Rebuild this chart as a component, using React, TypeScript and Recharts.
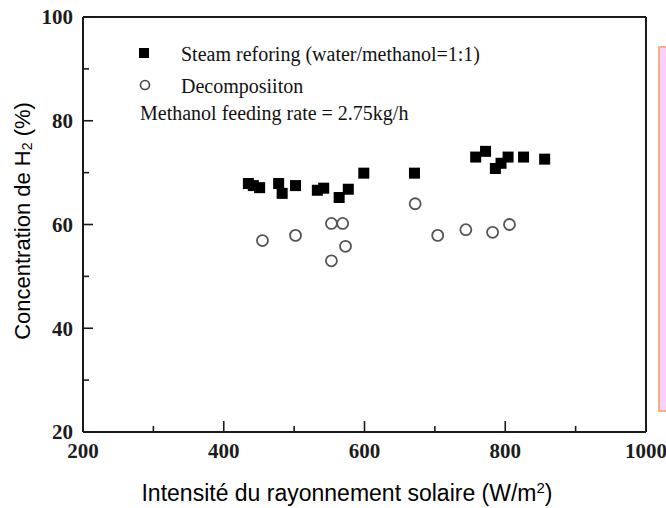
import React from 'react';
import { ScatterChart, Scatter, XAxis, YAxis, ReferenceLine } from 'recharts';

// Steam reforming (water/methanol = 1:1)
const steamIntensity = [435, 442, 451, 478, 483, 502, 533, 542, 564, 577, 599, 671, 758, 772, 786, 794, 804, 826, 856];
const steamH2 = [67.9, 67.5, 67.1, 67.9, 66.0, 67.5, 66.6, 67.0, 65.2, 66.8, 69.9, 69.9, 73.0, 74.1, 70.8, 71.8, 73.0, 73.0, 72.6];

// Decomposition
const decompIntensity = [455, 502, 553, 569, 573, 553, 672, 704, 744, 782, 806];
const decompH2 = [56.9, 57.9, 60.2, 60.2, 55.8, 53.0, 64.0, 57.9, 59.0, 58.5, 60.0];

const xTicks = [200, 300, 400, 500, 600, 700, 800, 900, 1000];
const yTicks = [20, 30, 40, 50, 60, 70, 80, 90, 100];

const steamData = steamIntensity.map((x, i) => ({ x, y: steamH2[i] }));
const decompData = decompIntensity.map((x, i) => ({ x, y: decompH2[i] }));

const INK = '#1a1a1a';
const SERIF = '"Liberation Serif", "Times New Roman", serif';
const SANS = '"Liberation Sans", Arial, sans-serif';

const YTick = (props: any) => {
  const { x, y, payload } = props;
  const major = payload.value % 20 === 0;
  return (
    <g>
      <line x1={x} y1={y} x2={x + (major ? 10 : 6)} y2={y} stroke={INK} strokeWidth={1.6} />
      {major && (
        <text x={x - 10} y={y} dy="0.35em" textAnchor="end" fontFamily={SERIF} fontWeight="bold" fontSize={21} fill="#1c1c1c">
          {payload.value}
        </text>
      )}
    </g>
  );
};

const XTick = (props: any) => {
  const { x, y, payload } = props;
  const major = payload.value % 200 === 0;
  return (
    <g>
      <line x1={x} y1={y} x2={x} y2={y - (major ? 11 : 6)} stroke={INK} strokeWidth={1.6} />
      {major && (
        <text x={x} y={y + 26} textAnchor="middle" fontFamily={SERIF} fontWeight="bold" fontSize={21} fill="#1c1c1c">
          {payload.value}
        </text>
      )}
    </g>
  );
};

const SquareDot = (props: any) => {
  const { cx, cy } = props;
  return <rect x={cx - 5.5} y={cy - 5.5} width={11} height={11} fill="#000" />;
};

const CircleDot = (props: any) => {
  const { cx, cy } = props;
  return <circle cx={cx} cy={cy} r={5.5} fill="#fff" stroke="#555" strokeWidth={1.8} />;
};

const XTitle = () => (
  <text x={347} y={501} textAnchor="middle" fontFamily={SANS} fontSize={23} fill="#000">
    Intensité du rayonnement solaire (W/m
    <tspan dy={-8} fontSize={15}>2</tspan>
    <tspan dy={8}>)</tspan>
  </text>
);

const YTitle = () => (
  <text
    x={22}
    y={221}
    transform="rotate(-90 22 221)"
    textAnchor="middle"
    dominantBaseline="central"
    fontFamily={SANS}
    fontSize={22}
    fill="#000"
  >
    Concentration de H
    <tspan dy={5} fontSize={14}>2</tspan>
    <tspan dy={-5}> (%)</tspan>
  </text>
);

const App: React.FC = () => {
  return (
    <div style={{ position: 'fixed', left: 0, top: 0, width: 666, height: 508, background: '#fff', overflow: 'hidden' }}>
      <ScatterChart width={666} height={508} margin={{ top: 17, right: 20, bottom: 16, left: 23 }}>
        <XAxis
          type="number"
          dataKey="x"
          domain={[200, 1000]}
          ticks={xTicks}
          interval={0}
          tickSize={0}
          tickMargin={0}
          tickLine={false}
          tick={<XTick />}
          axisLine={{ stroke: INK, strokeWidth: 2 }}
          height={60}
          label={() => <XTitle />}
        />
        <YAxis
          type="number"
          dataKey="y"
          domain={[20, 100]}
          ticks={yTicks}
          interval={0}
          tickSize={0}
          tickMargin={0}
          tickLine={false}
          tick={<YTick />}
          axisLine={{ stroke: INK, strokeWidth: 2 }}
          width={60}
          label={() => <YTitle />}
        />
        <ReferenceLine y={100} stroke={INK} strokeWidth={2} />
        <ReferenceLine x={1000} stroke={INK} strokeWidth={2} />
        <Scatter name="Steam reforing (water/methanol=1:1)" data={steamData} shape={<SquareDot />} isAnimationActive={false} />
        <Scatter name="Decomposiiton" data={decompData} shape={<CircleDot />} isAnimationActive={false} />
      </ScatterChart>

      <svg width={666} height={508} style={{ position: 'absolute', left: 0, top: 0, pointerEvents: 'none' }}>
        <rect x={139} y={48} width={10} height={10} fill="#000" />
        <text x={181} y={61} fontFamily={SERIF} fontSize={20} fill="#111">
          Steam reforing (water/methanol=1:1)
        </text>
        <circle cx={145} cy={85} r={4.5} fill="#fff" stroke="#444" strokeWidth={1.6} />
        <text x={181} y={93} fontFamily={SERIF} fontSize={20} fill="#111">
          Decomposiiton
        </text>
        <text x={140} y={120} fontFamily={SERIF} fontSize={20} fill="#111">
          Methanol feeding rate = 2.75kg/h
        </text>
      </svg>

      <div
        style={{
          position: 'absolute',
          left: 658,
          top: 46,
          width: 30,
          height: 362,
          background: '#fdd0fc',
          border: '2px solid #f4b183',
        }}
      />
    </div>
  );
};

export default App;
